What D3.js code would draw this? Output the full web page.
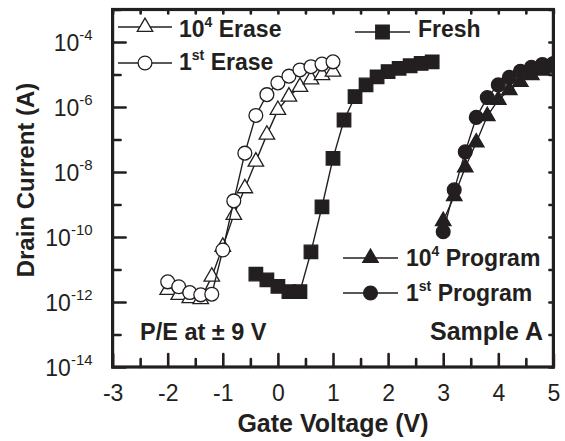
<!DOCTYPE html>
<html>
<head>
<meta charset="utf-8">
<script src="https://cdn.jsdelivr.net/npm/d3@7"></script>
<style>
  body { margin: 0; background: #fff; }
  text { font-family: "Liberation Sans", Arial, Helvetica, sans-serif; fill: #231f20; }
</style>
</head>
<body>
<svg id="chart" width="565" height="441"></svg>
<script>
// Gate voltage sweeps (V)
const eraseV = [-2.0, -1.8, -1.6, -1.4, -1.2, -1.0, -0.8, -0.6, -0.4, -0.2, 0.0, 0.2, 0.4, 0.6, 0.8, 1.0];
const freshV = [-0.4, -0.2, 0.0, 0.2, 0.4, 0.6, 0.8, 1.0, 1.2, 1.4, 1.6, 1.8, 2.0, 2.2, 2.4, 2.6, 2.8];
const programV = [3.0, 3.2, 3.4, 3.6, 3.8, 4.0, 4.2, 4.4, 4.6, 4.8, 5.0];

// Drain current (A)
const erase1st = [4.17e-12, 2.95e-12, 1.95e-12, 1.66e-12, 1.74e-12, 3.98e-11, 1.29e-9, 3.80e-8, 5.50e-7, 2.40e-6, 5.50e-6, 8.91e-6, 1.38e-5, 1.74e-5, 2.09e-5, 2.45e-5];
const erase10k = [2.34e-12, 1.66e-12, 1.32e-12, 1.23e-12, 6.03e-12, 5.01e-11, 4.79e-10, 3.16e-9, 2.09e-8, 1.41e-7, 8.13e-7, 2.09e-6, 4.17e-6, 7.08e-6, 9.55e-6, 1.23e-5];
const fresh = [7.24e-12, 4.79e-12, 3.02e-12, 2.09e-12, 2.09e-12, 3.47e-11, 8.51e-10, 2.63e-8, 3.98e-7, 2.09e-6, 4.79e-6, 8.51e-6, 1.23e-5, 1.55e-5, 1.86e-5, 2.19e-5, 2.45e-5];
const program1st = [1.45e-10, 2.82e-9, 4.17e-8, 4.79e-7, 1.95e-6, 4.79e-6, 8.13e-6, 1.26e-5, 1.66e-5, 2.04e-5, 2.19e-5];
const program10k = [3.09e-10, 1.82e-9, 1.38e-8, 8.13e-8, 5.25e-7, 1.66e-6, 3.31e-6, 5.89e-6, 9.55e-6, 1.32e-5, 1.55e-5];

// Axis ticks
const xMajorTicks = [-3, -2, -1, 0, 1, 2, 3, 4, 5];
const xMinorTicks = [-2.5, -1.5, -0.5, 0.5, 1.5, 2.5, 3.5, 4.5];
const yLabelExponents = [-14, -12, -10, -8, -6, -4];
const yMinorExponents = [-13, -11, -9, -7, -5, -3];

const svg = d3.select("#chart");
const plotLeft = 112.6, plotRight = 553.4, plotTop = 9.5, plotBottom = 367;

const x = d3.scaleLinear().domain([-3, 5]).range([plotLeft, plotRight]);
const y = d3.scaleLog().domain([1e-14, 1e-3]).range([plotBottom, plotTop]);

// ---- axes ----
const axisStyle = g => {
  g.select(".domain").remove();
  g.selectAll(".tick line").attr("stroke", "#231f20").attr("stroke-width", 2.6).attr("stroke-linecap", "round");
};

svg.append("g").attr("transform", `translate(0,${plotBottom})`)
  .call(d3.axisBottom(x).tickValues(xMajorTicks).tickSize(-13).tickPadding(17.5).tickFormat(d3.format("d")))
  .call(axisStyle)
  .call(g => g.selectAll("text").attr("font-size", 23).attr("fill", "#231f20").text(d => d < 0 ? "-" + Math.abs(d) : d));
svg.append("g").attr("transform", `translate(0,${plotBottom})`)
  .call(d3.axisBottom(x).tickValues(xMinorTicks).tickSize(-8).tickFormat(""))
  .call(axisStyle);
svg.append("g").attr("transform", `translate(0,${plotTop})`)
  .call(d3.axisTop(x).tickValues(xMajorTicks.concat(xMinorTicks)).tickSize(-4).tickFormat(""))
  .call(axisStyle);

const yLeft = svg.append("g").attr("transform", `translate(${plotLeft},0)`)
  .call(d3.axisLeft(y).tickValues(yLabelExponents.map(e => Math.pow(10, e))).tickSize(-13).tickPadding(20).tickFormat(""))
  .call(axisStyle);
yLeft.selectAll(".tick text").each(function(d) {
  const t = d3.select(this).attr("font-size", 23).attr("fill", "#231f20").attr("dy", "0.36em");
  t.append("tspan").text("10");
  t.append("tspan").attr("font-size", 15).attr("dy", "-0.75em").text(String(Math.round(Math.log10(d))));
});
svg.append("g").attr("transform", `translate(${plotLeft},0)`)
  .call(d3.axisLeft(y).tickValues(yMinorExponents.map(e => Math.pow(10, e))).tickSize(-8).tickFormat(""))
  .call(axisStyle);
svg.append("g").attr("transform", `translate(${plotRight},0)`)
  .call(d3.axisRight(y).tickValues(yLabelExponents.concat(yMinorExponents).map(e => Math.pow(10, e))).tickSize(-4).tickFormat(""))
  .call(axisStyle);

// ---- data ----
svg.append("clipPath").attr("id", "plot-clip")
  .append("rect").attr("x", plotLeft).attr("y", plotTop).attr("width", plotRight - plotLeft).attr("height", plotBottom - plotTop);
const plot = svg.append("g").attr("clip-path", "url(#plot-clip)");

const line = d3.line().x(d => x(d[0])).y(d => y(d[1]));
const triPath = d3.symbol().type(d3.symbolTriangle).size(104)();
const sqPath = d3.symbol().type(d3.symbolSquare).size(182)();

const series = [
  { v: eraseV, i: erase10k, shape: "triangle", fill: "#fff" },
  { v: eraseV, i: erase1st, shape: "circle", fill: "#fff" },
  { v: freshV, i: fresh, shape: "square", fill: "#231f20" },
  { v: programV, i: program10k, shape: "triangle", fill: "#231f20" },
  { v: programV, i: program1st, shape: "circle", fill: "#231f20" }
];

function marker(g, shape, fill, cx, cy) {
  if (shape === "circle") {
    g.append("circle").attr("cx", cx).attr("cy", cy).attr("r", 6.9)
      .attr("fill", fill).attr("stroke", "#231f20").attr("stroke-width", 1.3);
  } else {
    g.append("path").attr("d", shape === "triangle" ? triPath : sqPath)
      .attr("transform", `translate(${cx},${cy})`)
      .attr("fill", fill).attr("stroke", "#231f20").attr("stroke-width", 1.3);
  }
}

series.forEach(s => {
  const pts = s.v.map((v, k) => [v, s.i[k]]);
  const g = plot.append("g");
  g.append("path").attr("d", line(pts)).attr("fill", "none").attr("stroke", "#231f20").attr("stroke-width", 1.4);
  pts.forEach(p => marker(g, s.shape, s.fill, x(p[0]), y(p[1])));
});

// frame
svg.append("rect").attr("x", plotLeft).attr("y", plotTop).attr("width", plotRight - plotLeft).attr("height", plotBottom - plotTop)
  .attr("fill", "none").attr("stroke", "#231f20").attr("stroke-width", 3.2);

// ---- legends ----
const legends = [
  { x1: 118, x2: 172, ly: 27, tx: 179, ty: 37, shape: "triangle", fill: "#fff", base: "10", sup: "4", rest: " Erase" },
  { x1: 118, x2: 172, ly: 63, tx: 179, ty: 70, shape: "circle", fill: "#fff", base: "1", sup: "st", rest: " Erase" },
  { x1: 355, x2: 410, ly: 32, tx: 418, ty: 37, shape: "square", fill: "#231f20", base: "Fresh", sup: "", rest: "" },
  { x1: 343, x2: 398, ly: 258, tx: 406, ty: 266, shape: "triangle", fill: "#231f20", base: "10", sup: "4", rest: " Program" },
  { x1: 343, x2: 398, ly: 293, tx: 406, ty: 301, shape: "circle", fill: "#231f20", base: "1", sup: "st", rest: " Program" }
];
legends.forEach(l => {
  const g = svg.append("g");
  g.append("line").attr("x1", l.x1).attr("x2", l.x2).attr("y1", l.ly).attr("y2", l.ly)
    .attr("stroke", "#231f20").attr("stroke-width", 1.4);
  marker(g, l.shape, l.fill, (l.x1 + l.x2) / 2, l.ly);
  const t = g.append("text").attr("x", l.tx).attr("y", l.ty).attr("font-size", 23).attr("font-weight", "bold");
  t.append("tspan").text(l.base);
  if (l.sup) {
    t.append("tspan").attr("font-size", 14).attr("dy", -10).text(l.sup);
    t.append("tspan").attr("dy", 10).text(l.rest);
  }
});

svg.append("text").attr("x", 140).attr("y", 340).attr("font-size", 23.5).attr("font-weight", "bold").text("P/E at \u00b1 9 V");
svg.append("text").attr("x", 543).attr("y", 340).attr("text-anchor", "end").attr("font-size", 25).attr("font-weight", "bold").text("Sample A");

// axis titles
svg.append("text").attr("x", 333).attr("y", 432).attr("text-anchor", "middle").attr("font-size", 25).attr("font-weight", "bold").text("Gate Voltage (V)");
svg.append("text").attr("transform", "translate(34,180) rotate(-90)").attr("text-anchor", "middle").attr("font-size", 24).attr("font-weight", "bold").text("Drain Current (A)");
</script>
</body>
</html>
